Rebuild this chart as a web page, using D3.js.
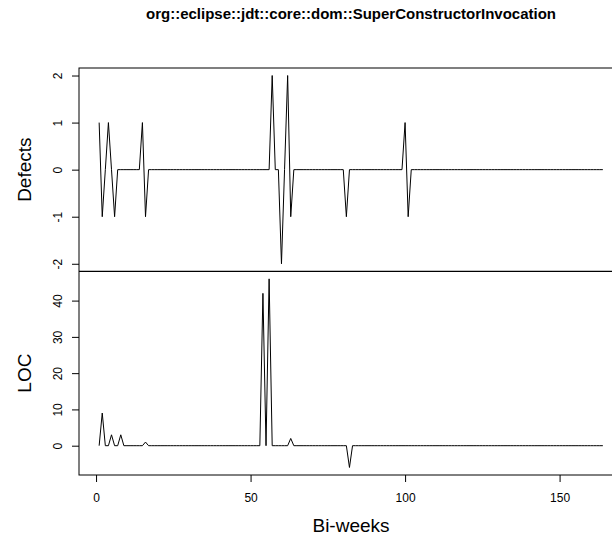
<!doctype html>
<html lang="en">
<head>
  <meta charset="utf-8">
  <script src="https://d3js.org/d3.v7.min.js"></script>
  <style>
    body { margin: 0; background: #fff; }
    svg { font-family: "Liberation Sans", Arial, sans-serif; }
  </style>
</head>
<body>
  <svg id="chart"></svg>
  <script>
    // values per bi-week (weeks 1..164)
    var title = "org::eclipse::jdt::core::dom::SuperConstructorInvocation";

    var defects = [
      1,-1,0,1,0,-1,0,0,0,0, 0,0,0,0,1,-1,0,0,0,0,
      0,0,0,0,0,0,0,0,0,0, 0,0,0,0,0,0,0,0,0,0,
      0,0,0,0,0,0,0,0,0,0, 0,0,0,0,0,0,2,0,0,-2,
      0,2,-1,0,0,0,0,0,0,0, 0,0,0,0,0,0,0,0,0,0,
      -1,0,0,0,0,0,0,0,0,0, 0,0,0,0,0,0,0,0,0,1,
      -1,0,0,0,0,0,0,0,0,0, 0,0,0,0,0,0,0,0,0,0,
      0,0,0,0,0,0,0,0,0,0, 0,0,0,0,0,0,0,0,0,0,
      0,0,0,0,0,0,0,0,0,0, 0,0,0,0,0,0,0,0,0,0,
      0,0,0,0
    ];

    var loc = [
      0,9,0,0,3,0,0,3,0,0, 0,0,0,0,0,1,0,0,0,0,
      0,0,0,0,0,0,0,0,0,0, 0,0,0,0,0,0,0,0,0,0,
      0,0,0,0,0,0,0,0,0,0, 0,0,0,42,0,46,0,0,0,0,
      0,0,2,0,0,0,0,0,0,0, 0,0,0,0,0,0,0,0,0,0,
      0,-6,0,0,0,0,0,0,0,0, 0,0,0,0,0,0,0,0,0,0,
      0,0,0,0,0,0,0,0,0,0, 0,0,0,0,0,0,0,0,0,0,
      0,0,0,0,0,0,0,0,0,0, 0,0,0,0,0,0,0,0,0,0,
      0,0,0,0,0,0,0,0,0,0, 0,0,0,0,0,0,0,0,0,0,
      0,0,0,0
    ];

    var weeks = d3.range(1, defects.length + 1);
    var xTicks = [0, 50, 100, 150];
    var defectTicks = [-2, -1, 0, 1, 2];
    var locTicks = [0, 10, 20, 30, 40];

    var width = 612, height = 540;
    // plot box edges (right edge runs past the picture, as in the original)
    var boxL = 79, boxR = 623, boxT = 68, boxM = 271.3, boxB = 475;

    var svg = d3.select("#chart")
      .attr("width", width)
      .attr("height", height);

    // R style 4% padding on data range
    function pad(ext) {
      var d = (ext[1] - ext[0]) * 0.04;
      return [ext[0] - d, ext[1] + d];
    }

    var x = d3.scaleLinear()
      .domain(pad(d3.extent(weeks)))
      .range([boxL, boxR]);

    var yDef = d3.scaleLinear()
      .domain(pad(d3.extent(defects)))
      .range([boxM, boxT]);

    var yLoc = d3.scaleLinear()
      .domain(pad(d3.extent(loc)))
      .range([boxB, boxM]);

    function line(y) {
      return d3.line()
        .x((d, i) => x(weeks[i]))
        .y(d => y(d));
    }

    svg.append("path")
      .datum(defects)
      .attr("fill", "none")
      .attr("stroke", "#000")
      .attr("stroke-width", 1)
      .attr("d", line(yDef));

    svg.append("path")
      .datum(loc)
      .attr("fill", "none")
      .attr("stroke", "#000")
      .attr("stroke-width", 1)
      .attr("d", line(yLoc));

    // frames
    svg.append("rect")
      .attr("x", boxL).attr("y", boxT)
      .attr("width", boxR - boxL).attr("height", boxB - boxT)
      .attr("fill", "none").attr("stroke", "#000");
    svg.append("line")
      .attr("x1", boxL).attr("x2", boxR)
      .attr("y1", boxM).attr("y2", boxM)
      .attr("stroke", "#000").attr("stroke-width", 1.3);

    function yAxis(y, ticks) {
      return g => g
        .attr("transform", `translate(${boxL},0)`)
        .call(d3.axisLeft(y).tickValues(ticks).tickSize(7).tickFormat(d => String(d)))
        .call(g => g.select(".domain").remove())
        .call(g => g.selectAll("text")
          .attr("transform", "rotate(-90)")
          .attr("x", 0)
          .attr("y", -17)
          .attr("dy", null)
          .attr("text-anchor", "middle")
          .attr("font-size", 12)
          .attr("font-family", null));
    }

    svg.append("g").call(yAxis(yDef, defectTicks));
    svg.append("g").call(yAxis(yLoc, locTicks));

    svg.append("g")
      .attr("transform", `translate(0,${boxB})`)
      .call(d3.axisBottom(x).tickValues(xTicks).tickSize(7).tickPadding(11))
      .call(g => g.select(".domain").remove())
      .call(g => g.selectAll("text").attr("font-size", 12).attr("font-family", null));

    // labels
    svg.append("text")
      .attr("x", (boxL + boxR) / 2)
      .attr("y", 19)
      .attr("text-anchor", "middle")
      .attr("font-weight", "bold")
      .attr("font-size", 15)
      .text(title);

    svg.append("text")
      .attr("transform", `translate(31,${(boxT + boxM) / 2}) rotate(-90)`)
      .attr("text-anchor", "middle")
      .attr("font-size", 19)
      .text("Defects");

    svg.append("text")
      .attr("transform", `translate(31,${(boxM + boxB) / 2}) rotate(-90)`)
      .attr("text-anchor", "middle")
      .attr("font-size", 19)
      .text("LOC");

    svg.append("text")
      .attr("x", (boxL + boxR) / 2)
      .attr("y", 532)
      .attr("text-anchor", "middle")
      .attr("font-size", 19)
      .text("Bi-weeks");
  </script>
</body>
</html>
